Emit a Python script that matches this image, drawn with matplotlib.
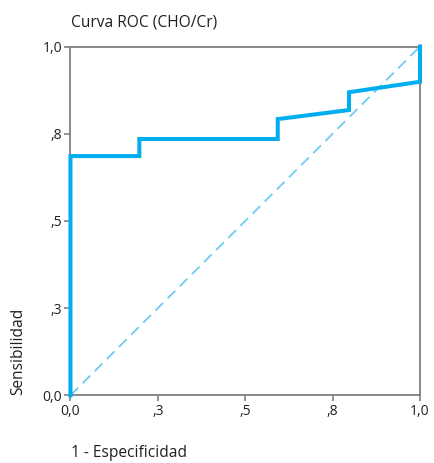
import matplotlib
matplotlib.use('Agg')
import matplotlib.pyplot as plt

# ROC curve points (1 - specificity, sensitivity)
fpr = [0.0, 0.0, 0.197, 0.197, 0.593, 0.593, 0.797, 0.797, 1.0, 1.0]
tpr = [0.0, 0.686, 0.686, 0.735, 0.735, 0.792, 0.818, 0.869, 0.899, 1.0]

ref_x = [0.0, 1.0]
ref_y = [0.0, 1.0]

tick_vals = [0.0, 0.25, 0.5, 0.75, 1.0]
tick_labels = ['0,0', ',3', ',5', ',8', '1,0']

plt.rcParams['font.family'] = ['Open Sans', 'DejaVu Sans']

fig = plt.figure(figsize=(4.35, 4.63), dpi=100)
ax = fig.add_axes([0.162, 0.146, 0.8035, 0.7535])

ax.plot(ref_x, ref_y, color='#6dccf2', linestyle=(0, (6, 3.5)), linewidth=1.3)
ax.plot(fpr, tpr, color='#00aeef', linewidth=2.9, solid_joinstyle='miter',
        clip_on=False, zorder=5)

ax.set_xlim(0, 1)
ax.set_ylim(0, 1)
ax.set_xticks(tick_vals)
ax.set_xticklabels(tick_labels)
ax.set_yticks(tick_vals)
ax.set_yticklabels(tick_labels)

for s in ax.spines.values():
    s.set_color('#808080')
    s.set_linewidth(1.3)
ax.tick_params(colors='#808080', labelcolor='#231f20', length=4, width=1.2,
               labelsize=10, pad=2)

fig.text(0.164, 0.952, 'Curva ROC (CHO/Cr)', fontsize=11.2, color='#231f20',
         ha='left', va='center')
fig.text(0.164, 0.022, '1 - Especificidad', fontsize=11.2, color='#231f20',
         ha='left', va='center')
fig.text(0.042, 0.146, 'Sensibilidad', fontsize=11.2, color='#231f20',
         rotation=90, ha='center', va='bottom')

fig.savefig('out.png', dpi=100)
